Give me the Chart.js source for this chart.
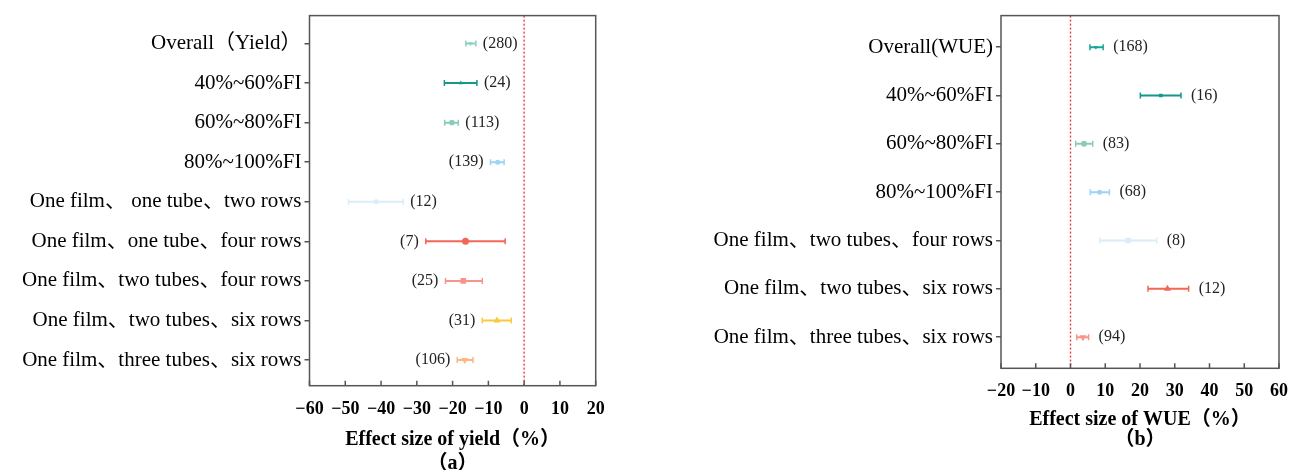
<!DOCTYPE html>
<html>
<head>
<meta charset="utf-8">
<script src="https://cdn.jsdelivr.net/npm/chart.js@4"></script>
<style>
  body { margin: 0; background: #fff; }
  canvas { position: absolute; top: 0; }
  #chartA { left: 0; }
  #chartB { left: 650px; }
</style>
</head>
<body>
<canvas id="chartA" width="640" height="470"></canvas>
<canvas id="chartB" width="650" height="470"></canvas>
<script>
// (a) yield
const yieldCats = ["Overall（Yield）", "40%~60%FI", "60%~80%FI", "80%~100%FI",
  "One film、 one tube、two rows", "One film、one tube、four rows",
  "One film、two tubes、four rows", "One film、two tubes、six rows",
  "One film、three tubes、six rows"];
const yieldMean = [-15.0, -17.7, -20.2, -7.4, -41.4, -16.4, -17.0, -7.6, -16.6];
const yieldLow = [-16.3, -22.3, -22.2, -9.4, -49.1, -27.5, -22.0, -11.7, -18.7];
const yieldHigh = [-13.5, -13.2, -18.4, -5.6, -33.8, -5.3, -11.7, -3.6, -14.3];
const yieldN = [280, 24, 113, 139, 12, 7, 25, 31, 106];
const yieldTicks = [-60, 20]; // x axis min / max

// (b) WUE
const wueCats = ["Overall(WUE)", "40%~60%FI", "60%~80%FI", "80%~100%FI",
  "One film、two tubes、four rows", "One film、two tubes、six rows",
  "One film、three tubes、six rows"];
const wueMean = [7.3, 26.0, 3.9, 8.4, 16.6, 27.9, 3.6];
const wueLow = [5.6, 20.1, 1.5, 5.7, 8.5, 22.3, 1.8];
const wueHigh = [9.4, 31.8, 6.4, 11.2, 24.8, 34.0, 5.2];
const wueN = [168, 16, 83, 68, 8, 12, 94];
const wueTicks = [-20, 60];

// styles
const yieldColors = ["#8ccfc0", "#13988a", "#8ccbbc", "#9dd3f3", "#d8edf9",
  "#f56555", "#f7958a", "#fcc93a", "#fdb67f"];
const yieldMarks = ["triangle", "triangle", "rectRounded", "circle", "circle",
  "circle", "rect", "triangle", "triangle"];
const yieldRot = [180, 0, 0, 0, 0, 0, 0, 0, 180];
const yieldSize = [2.5, 2.5, 3, 2.5, 2.5, 3.5, 4, 4, 4];
const yieldSide = ["r", "r", "r", "l", "r", "l", "l", "l", "l"];

const wueColors = ["#1aa597", "#13988a", "#8ccbbc", "#9dd3f3", "#d8edf9",
  "#f56555", "#f7958a"];
const wueMarks = ["triangle", "rect", "circle", "circle", "rect", "triangle", "triangle"];
const wueRot = [180, 0, 0, 0, 0, 0, 180];
const wueSize = [2.5, 2.5, 3, 2.5, 4, 4, 4];
const wueSide = ["r", "r", "r", "r", "r", "r", "r"];

const serif = '"Liberation Serif", "Times New Roman", "Noto Sans CJK SC", serif';
const frameColor = "#555";

// box round the plot + inward ticks on x axis + (n) labels
const framePlugin = {
  id: "frame",
  afterDatasetsDraw(chart, args, opts) {
    const { ctx, chartArea: a, scales: { x, y } } = chart;
    ctx.save();
    ctx.font = "16px " + serif;
    ctx.fillStyle = "#222";
    ctx.textBaseline = "middle";
    opts.n.forEach((n, i) => {
      const py = y.getPixelForValue(i);
      if (opts.side[i] === "r") {
        ctx.textAlign = "left";
        ctx.fillText("(" + n + ")", x.getPixelForValue(opts.high[i]) + opts.gap, py);
      } else {
        ctx.textAlign = "right";
        ctx.fillText("(" + n + ")", x.getPixelForValue(opts.low[i]) - opts.gap, py);
      }
    });
    ctx.strokeStyle = frameColor;
    ctx.lineWidth = 1.5;
    ctx.strokeRect(a.left, a.top, a.right - a.left, a.bottom - a.top);
    ctx.beginPath();
    x.ticks.forEach((t) => {
      const px = x.getPixelForValue(t.value);
      ctx.moveTo(px, a.bottom);
      ctx.lineTo(px, a.bottom - 5);
    });
    ctx.stroke();
    ctx.restore();
  },
};

function forest(id, cats, mean, low, high, n, range, colors, marks, rot, size, side, cfg) {
  const datasets = [];
  // red dotted zero line
  datasets.push({
    type: "line",
    data: [{ x: 0, y: cfg.yMin }, { x: 0, y: cfg.yMax }],
    borderColor: "#f03c3c",
    borderWidth: 1.4,
    borderDash: [2, 2],
    pointRadius: 0,
    order: 5,
  });
  // error bars with caps
  cats.forEach((c, i) => {
    datasets.push({
      type: "line",
      data: [{ x: low[i], y: i }, { x: high[i], y: i }],
      borderColor: colors[i],
      borderWidth: 2,
      pointStyle: "line",
      pointRotation: 90,
      pointRadius: 3,
      pointBorderWidth: 1.5,
      pointBorderColor: colors[i],
      order: 2,
    });
  });
  // mean markers
  datasets.push({
    type: "scatter",
    data: mean.map((m, i) => ({ x: m, y: i })),
    pointStyle: marks,
    pointRotation: rot,
    pointRadius: size,
    backgroundColor: colors,
    borderColor: colors,
    borderWidth: 0,
    order: 1,
  });

  new Chart(document.getElementById(id), {
    data: { datasets },
    options: {
      responsive: false,
      animation: false,
      layout: { padding: { top: cfg.top, right: cfg.right, left: 0, bottom: 0 } },
      plugins: {
        legend: { display: false },
        tooltip: { enabled: false },
        frame: { n, low, high, side, gap: cfg.gap },
      },
      scales: {
        x: {
          type: "linear",
          min: range[0],
          max: range[1],
          ticks: {
            stepSize: 10,
            padding: cfg.tickPad,
            color: "#000",
            font: { family: serif, size: 18, weight: "bold" },
            callback: (v) => String(v).replace("-", "\u2212"),
          },
          grid: { display: false, drawTicks: false },
          border: { display: false },
          title: {
            display: true,
            text: cfg.title,
            color: "#000",
            font: { family: serif, size: 20, weight: "bold", lineHeight: cfg.titleLH },
            padding: { top: 0, bottom: cfg.titlePad },
          },
          afterFit: (s) => { s.height = cfg.xH; },
        },
        y: {
          type: "linear",
          reverse: true,
          min: cfg.yMin,
          max: cfg.yMax,
          afterBuildTicks: (s) => { s.ticks = cats.map((c, i) => ({ value: i })); },
          ticks: {
            padding: 3,
            color: "#000",
            font: { family: serif, size: 21 },
            callback: (v) => cats[v],
          },
          grid: { drawOnChartArea: false, tickLength: 5, color: frameColor, lineWidth: 1.5 },
          border: { display: false },
          afterFit: (s) => { s.width = cfg.yW; },
        },
      },
    },
    plugins: [framePlugin],
  });
}

forest("chartA", yieldCats, yieldMean, yieldLow, yieldHigh, yieldN, yieldTicks,
  yieldColors, yieldMarks, yieldRot, yieldSize, yieldSide, {
    yMin: -0.705, yMax: 8.647, top: 14.3, right: 44.3, yW: 309.5, xH: 84.3,
    tickPad: 13, title: ["Effect size of yield（%）", "（a）"], titleLH: "24px", titlePad: -6, gap: 7,
  });

forest("chartB", wueCats, wueMean, wueLow, wueHigh, wueN, wueTicks,
  wueColors, wueMarks, wueRot, wueSize, wueSide, {
    yMin: -0.653, yMax: 6.645, top: 14, right: 12.3, yW: 351, xH: 101.7,
    tickPad: 12, title: ["Effect size of WUE（%）", "（b）"], titleLH: "20px", titlePad: 20, gap: 10,
  });
</script>
</body>
</html>
